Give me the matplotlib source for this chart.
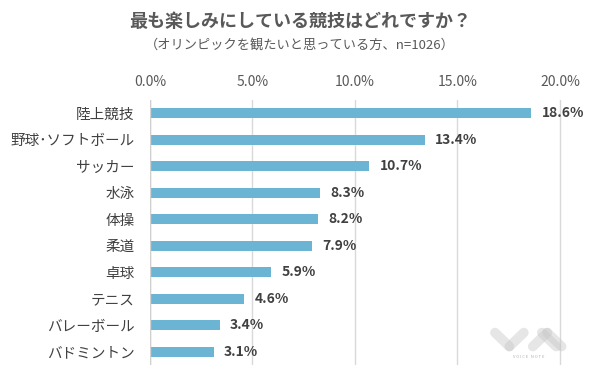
import matplotlib.pyplot as plt
import numpy as np

plt.rcParams['font.family'] = ['Noto Sans CJK JP', 'DejaVu Sans']

categories = ['陸上競技', '野球･ソフトボール', 'サッカー', '水泳', '体操', '柔道',
              '卓球', 'テニス', 'バレーボール', 'バドミントン']
values = [18.6, 13.4, 10.7, 8.3, 8.2, 7.9, 5.9, 4.6, 3.4, 3.1]
ticks = [0, 5, 10, 15, 20]

fig = plt.figure(figsize=(6, 3.85), dpi=100)
ax = fig.add_axes([0.25, 0.052, 0.690, 0.688])

y = np.arange(len(categories))
ax.barh(y, values, height=0.38, color='#6cb4d4', zorder=3)
ax.set_ylim(len(categories) - 0.5, -0.5)
ax.set_xlim(0, 20.2)
ax.set_yticks(y)
ax.set_yticklabels(categories, fontsize=10.5, color='#404040')
ax.set_xticks(ticks)
ax.set_xticklabels([f'{t:.1f}%' for t in ticks], fontsize=10, color='#595959')
ax.xaxis.tick_top()
ax.tick_params(axis='both', length=0)
ax.tick_params(axis='x', pad=8)
ax.tick_params(axis='y', pad=11)
ax.grid(axis='x', color='#d9d9d9', linewidth=1, zorder=0)
for s in ax.spines.values():
    s.set_visible(False)
ax.axvline(0, color='#d0d0d0', linewidth=1, zorder=4)

for yi, v in zip(y, values):
    ax.text(v + 0.5, yi, f'{v:.1f}%', va='center', ha='left', fontsize=10,
            fontweight='bold', color='#404040')

fig.text(0.5, 0.943, '最も楽しみにしている競技はどれですか？', ha='center', va='center',
         fontsize=13, fontweight='bold', color='#595959')
fig.text(0.5, 0.882, '（オリンピックを観たいと思っている方、n=1026）', ha='center', va='center',
         fontsize=9.5, color='#595959')

# faint logo
lx = fig.add_axes([0.81, 0.06, 0.15, 0.1])
lx.set_xlim(0, 10)
lx.set_ylim(0, 5)
lx.axis('off')
for x0, x1, y0, y1 in [(1.0, 2.6, 3.8, 2.0), (2.6, 4.2, 2.0, 3.8),
                       (5.2, 6.8, 2.0, 3.8), (6.8, 8.4, 3.8, 2.0), (6.2, 7.8, 3.8, 2.0)]:
    lx.plot([x0, x1], [y0, y1], color='#c8c8c8', linewidth=7, alpha=0.45,
            solid_capstyle='round')
lx.text(4.7, 0.6, 'V O I C E   N O T E', ha='center', va='center', fontsize=3, color='#b0b0b0')

fig.savefig('out.png', dpi=100, facecolor='white')
